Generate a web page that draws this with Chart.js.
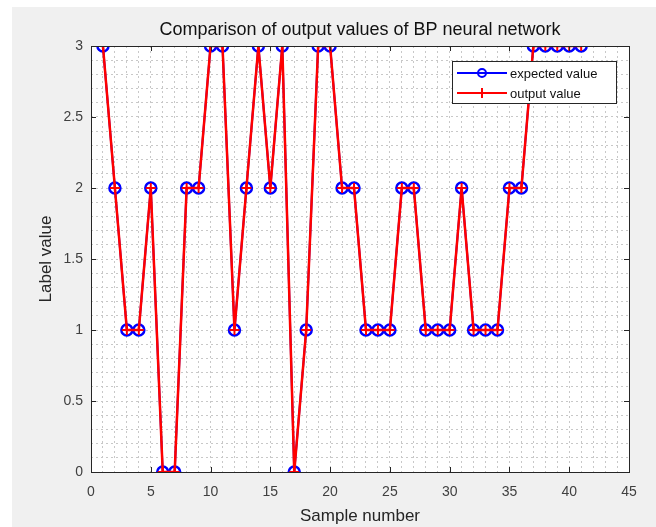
<!DOCTYPE html>
<html lang="en">
<head>
    <meta charset="UTF-8">
    <title>Comparison of output values of BP neural network</title>
    <script src="https://cdn.jsdelivr.net/npm/chart.js"></script>
    <style>
        body { margin: 0; background: #fff; }
        #chart { position: absolute; left: 12px; top: 7px; background: #f0f0f0; }
    </style>
</head>
<body>
    <canvas id="chart" width="644" height="520"></canvas>

    <script>
        // Dados
        const sampleNumbers = [1, 2, 3, 4, 5, 6, 7, 8, 9, 10, 11, 12, 13, 14, 15, 16, 17, 18, 19, 20,
            21, 22, 23, 24, 25, 26, 27, 28, 29, 30, 31, 32, 33, 34, 35, 36, 37, 38, 39, 40, 41];
        const expectedValues = [3, 2, 1, 1, 2, 0, 0, 2, 2, 3, 3, 1, 2, 3, 2, 3, 0, 1, 3, 3,
            2, 2, 1, 1, 1, 2, 2, 1, 1, 1, 2, 1, 1, 1, 2, 2, 3, 3, 3, 3, 3];
        const outputValues = [3, 2, 1, 1, 2, 0, 0, 2, 2, 3, 3, 1, 2, 3, 2, 3, 0, 1, 3, 3,
            2, 2, 1, 1, 1, 2, 2, 1, 1, 1, 2, 1, 1, 1, 2, 2, 3, 3, 3, 3, 3];
        const xTickLabels = [0, 5, 10, 15, 20, 25, 30, 35, 40, 45];
        const yTickLabels = [0, 0.5, 1, 1.5, 2, 2.5, 3];
        const seriesNames = ['expected value', 'output value'];

        const chartTitle = 'Comparison of output values of BP neural network';
        const tickColor = '#404040';
        const fontFamily = 'Arial, "Liberation Sans", Helvetica, sans-serif';

        const isMajor = (v, list) => list.some(t => Math.abs(t - v) < 1e-6);

        // Caixa, ticks internos, título e legenda no estilo MATLAB
        const matlabStyle = {
            id: 'matlabStyle',
            beforeDraw(chart) {
                const { ctx, chartArea: a } = chart;
                ctx.save();
                ctx.fillStyle = '#ffffff';
                ctx.fillRect(a.left, a.top, a.right - a.left, a.bottom - a.top);
                ctx.restore();
            },
            afterDraw(chart) {
                const { ctx, chartArea: a, scales } = chart;
                ctx.save();
                ctx.strokeStyle = '#262626';
                ctx.lineWidth = 1;
                ctx.strokeRect(Math.round(a.left) + 0.5, Math.round(a.top) + 0.5,
                    Math.round(a.right - a.left), Math.round(a.bottom - a.top));

                ctx.beginPath();
                xTickLabels.forEach(v => {
                    const px = Math.round(scales.x.getPixelForValue(v)) + 0.5;
                    ctx.moveTo(px, a.bottom); ctx.lineTo(px, a.bottom - 5);
                    ctx.moveTo(px, a.top); ctx.lineTo(px, a.top + 5);
                });
                yTickLabels.forEach(v => {
                    const py = Math.round(scales.y.getPixelForValue(v)) + 0.5;
                    ctx.moveTo(a.left, py); ctx.lineTo(a.left + 5, py);
                    ctx.moveTo(a.right, py); ctx.lineTo(a.right - 5, py);
                });
                ctx.stroke();

                // título
                ctx.fillStyle = '#111111';
                ctx.font = '18px ' + fontFamily;
                ctx.textAlign = 'center';
                ctx.textBaseline = 'middle';
                ctx.fillText(chartTitle, (a.left + a.right) / 2, 23);

                // legenda
                const lx = 440, ly = 54, lw = 164, lh = 42;
                ctx.fillStyle = '#ffffff';
                ctx.fillRect(lx, ly, lw, lh);
                ctx.strokeStyle = '#262626';
                ctx.strokeRect(lx + 0.5, ly + 0.5, lw, lh);
                ctx.font = '13px ' + fontFamily;
                ctx.textAlign = 'left';
                const rows = [ly + 12, ly + 32];
                const colors = ['#0000ff', '#ff0000'];
                rows.forEach((ry, i) => {
                    const mx = lx + 30;
                    ctx.strokeStyle = colors[i];
                    ctx.lineWidth = 2;
                    ctx.beginPath();
                    ctx.moveTo(lx + 5, ry); ctx.lineTo(lx + 55, ry);
                    ctx.stroke();
                    ctx.beginPath();
                    if (i === 0) {
                        ctx.arc(mx, ry, 4, 0, Math.PI * 2);
                    } else {
                        ctx.moveTo(mx, ry - 5); ctx.lineTo(mx, ry + 5);
                    }
                    ctx.stroke();
                    ctx.fillStyle = '#111111';
                    ctx.fillText(seriesNames[i], lx + 58, ry + 1);
                });
                ctx.restore();
            }
        };

        const ctx = document.getElementById('chart').getContext('2d');
        new Chart(ctx, {
            type: 'line',
            data: {
                datasets: [{
                    label: seriesNames[0],
                    data: sampleNumbers.map((x, i) => ({ x: x, y: expectedValues[i] })),
                    borderColor: '#0000ff',
                    borderWidth: 2,
                    pointStyle: 'circle',
                    pointRadius: 5.5,
                    pointBorderWidth: 2.5,
                    pointBorderColor: '#0000ff',
                    pointBackgroundColor: 'rgba(0,0,0,0)',
                    order: 2
                }, {
                    label: seriesNames[1],
                    data: sampleNumbers.map((x, i) => ({ x: x, y: outputValues[i] })),
                    borderColor: '#ff0000',
                    borderWidth: 2.5,
                    pointStyle: 'cross',
                    pointRadius: 5,
                    pointBorderWidth: 2,
                    pointBorderColor: '#ff0000',
                    order: 1
                }]
            },
            options: {
                responsive: false,
                animation: false,
                layout: { padding: { left: 0, right: 27, top: 39, bottom: 0 } },
                plugins: {
                    legend: { display: false },
                    tooltip: { enabled: false }
                },
                elements: { line: { tension: 0 } },
                scales: {
                    x: {
                        type: 'linear',
                        min: 0,
                        max: 45,
                        afterFit: s => { s.height = 55; },
                        ticks: {
                            stepSize: 1,
                            autoSkip: false,
                            maxRotation: 0,
                            color: tickColor,
                            font: { family: fontFamily, size: 14 },
                            padding: 12,
                            callback: v => isMajor(v, xTickLabels) ? String(v) : ''
                        },
                        grid: { color: '#c8c8c8', drawTicks: false, lineWidth: 1 },
                        border: { display: false, dash: [2, 3] },
                        title: {
                            display: true,
                            text: 'Sample number',
                            color: '#262626',
                            font: { family: fontFamily, size: 17 },
                            padding: { top: 0, bottom: 0 }
                        }
                    },
                    y: {
                        min: 0,
                        max: 3,
                        afterFit: s => { s.width = 79; },
                        ticks: {
                            stepSize: 0.1,
                            autoSkip: false,
                            color: tickColor,
                            font: { family: fontFamily, size: 14 },
                            padding: 8,
                            callback: v => isMajor(v, yTickLabels) ? String(Math.round(v * 2) / 2) : ''
                        },
                        grid: { color: '#c8c8c8', drawTicks: false, lineWidth: 1 },
                        border: { display: false, dash: [2, 3] },
                        title: {
                            display: true,
                            text: 'Label value',
                            color: '#262626',
                            font: { family: fontFamily, size: 17 },
                            padding: { top: 24, bottom: 0 }
                        }
                    }
                }
            },
            plugins: [matlabStyle]
        });
    </script>
</body>
</html>
